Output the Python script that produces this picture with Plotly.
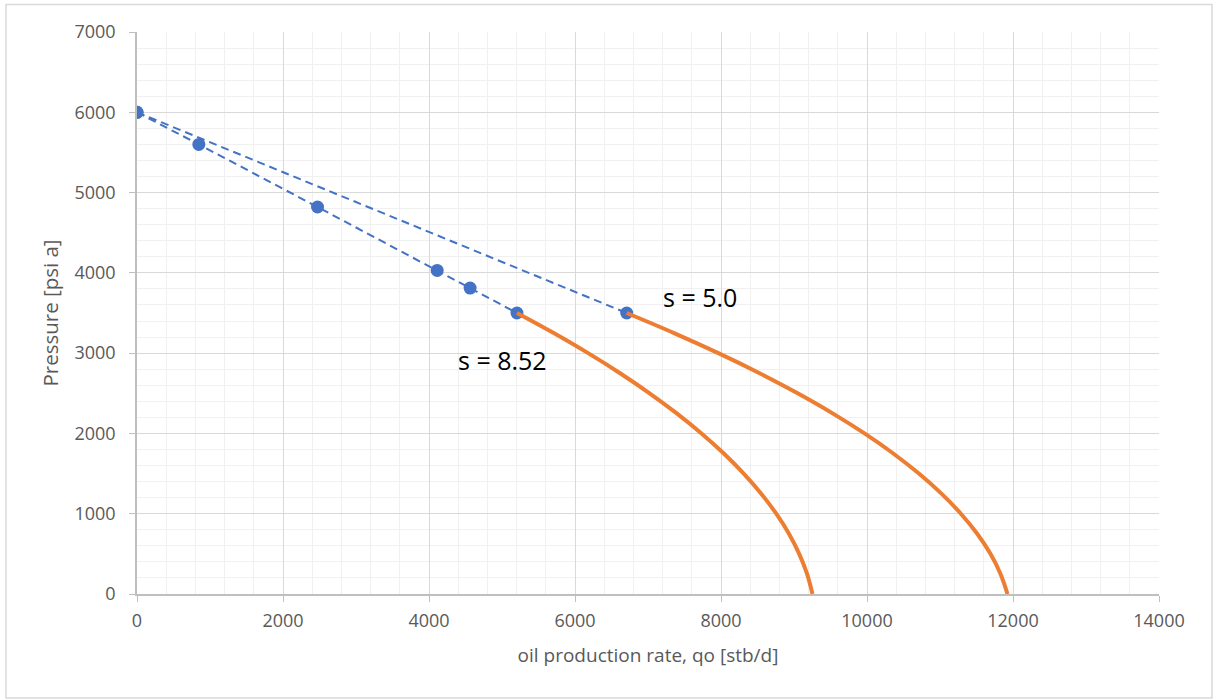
import plotly.graph_objects as go

# Straight-line (single-phase) part, s = 8.52
q_s852 = [0, 847, 2473, 4112, 4563, 5205]
p_s852 = [6000, 5600, 4820, 4030, 3810, 3500]
# Straight-line part, s = 5.0
q_s50 = [0, 6708]
p_s50 = [6000, 3500]
# Two-phase (below bubble point) curves
p_curve = [3500, 3250, 3000, 2750, 2500, 2250, 2000, 1750, 1500, 1250, 1000, 750, 500, 250, 0]
q_c852 = [5205, 5709, 6180, 6618, 7022, 7394, 7733, 8039, 8311, 8551, 8757, 8931, 9071, 9179, 9253]
q_c50 = [6708, 7357, 7964, 8529, 9050, 9529, 9966, 10360, 10711, 11020, 11286, 11510, 11691, 11829, 11925]

BLUE = "#4472C4"
ORANGE = "#ED7D31"
FONT = "Open Sans"

fig = go.Figure()
fig.add_trace(go.Scatter(x=q_s852, y=p_s852, mode="lines+markers",
                         line=dict(color=BLUE, width=2, dash="8px,5px"),
                         marker=dict(color=BLUE, size=13), showlegend=False))
fig.add_trace(go.Scatter(x=q_s50, y=p_s50, mode="lines+markers",
                         line=dict(color=BLUE, width=2, dash="8px,5px"),
                         marker=dict(color=BLUE, size=13), showlegend=False))
fig.add_trace(go.Scatter(x=q_c852, y=p_curve, mode="lines", line_shape="spline",
                         line=dict(color=ORANGE, width=4), showlegend=False))
fig.add_trace(go.Scatter(x=q_c50, y=p_curve, mode="lines", line_shape="spline",
                         line=dict(color=ORANGE, width=4), showlegend=False))

fig.add_annotation(x=7182, y=3699, text="s = 5.0", showarrow=False,
                   xanchor="left", yanchor="middle", font=dict(size=25, color="black", family=FONT))
fig.add_annotation(x=4374, y=2914, text="s = 8.52", showarrow=False,
                   xanchor="left", yanchor="middle", font=dict(size=25, color="black", family=FONT))

axis_common = dict(
    showline=True, linecolor="#bfbfbf", linewidth=1.5,
    gridcolor="#d9d9d9", gridwidth=1.3,
    ticks="outside", ticklen=6, tickcolor="#bfbfbf",
    tickfont=dict(size=18, color="#595959", family=FONT),
    tickformat="d", zeroline=False, automargin=False,
)
fig.update_xaxes(range=[0, 14000], dtick=2000, **axis_common, ticklabelstandoff=4,
                 minor=dict(dtick=400, showgrid=True, gridcolor="#f0f0f0", ticks=""),
                 title=dict(text="oil production rate, qo [stb/d]",
                            font=dict(size=19, color="#595959", family=FONT), standoff=17))
fig.update_yaxes(range=[0, 7000], dtick=1000, **axis_common, ticklabelstandoff=10,
                 minor=dict(dtick=200, showgrid=True, gridcolor="#f0f0f0", ticks=""),
                 title=dict(text="Pressure [psi a]",
                            font=dict(size=20.5, color="#595959", family=FONT), standoff=10))

fig.add_shape(type="rect", xref="paper", yref="paper",
              x0=-0.1282, x1=1.0519, y0=-0.185, y1=1.0489,
              line=dict(color="#d9d9d9", width=1.5), layer="below")

fig.update_layout(width=1213, height=700,
                  margin=dict(l=137, r=54, t=32, b=106),
                  plot_bgcolor="white", paper_bgcolor="white",
                  font=dict(family=FONT))
fig.write_html("out.html", config={"displayModeBar": False},
               post_script="document.body.style.margin='0px';")
